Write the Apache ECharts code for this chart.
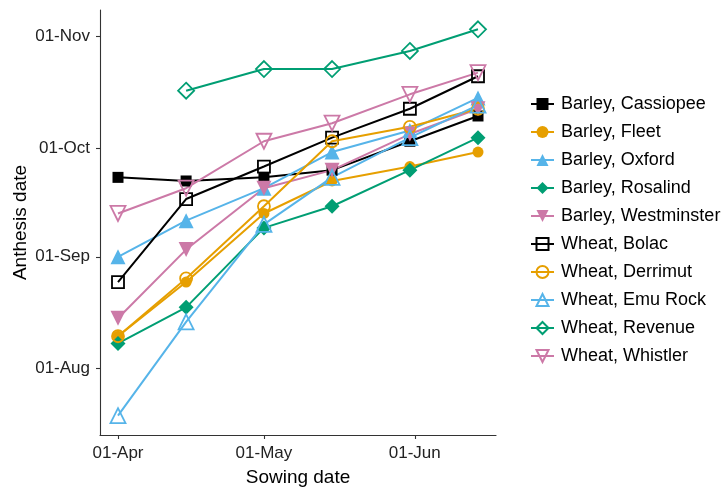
<!DOCTYPE html>
<html>
<head>
<meta charset="utf-8">
<script src="https://cdn.jsdelivr.net/npm/echarts@6/dist/echarts.min.js"></script>
<style>
  html, body { margin: 0; padding: 0; background: #fff; }
  #chart { width: 727px; height: 493px; }
</style>
</head>
<body>
<div id="chart"></div>
<script>
// Sowing dates (x) shared by every cultivar
const sowingDates = ['2019-04-01', '2019-04-15', '2019-05-01', '2019-05-15', '2019-05-31', '2019-06-14'];

// Anthesis dates per cultivar, one per sowing date (null = not recorded)
const barleyCassiopee   = ['2019-09-23', '2019-09-22', '2019-09-23', '2019-09-25', '2019-10-03', '2019-10-10'];
const barleyFleet       = ['2019-08-10', '2019-08-25', '2019-09-13', '2019-09-22', '2019-09-26', '2019-09-30'];
const barleyOxford      = ['2019-09-01', '2019-09-11', '2019-09-20', '2019-09-30', '2019-10-06', '2019-10-15'];
const barleyRosalind    = ['2019-08-08', '2019-08-18', '2019-09-09', '2019-09-15', '2019-09-25', '2019-10-04'];
const barleyWestminster = ['2019-08-15', '2019-09-03', '2019-09-20', '2019-09-25', '2019-10-05', '2019-10-12'];
const wheatBolac        = ['2019-08-25', '2019-09-17', '2019-09-26', '2019-10-04', '2019-10-12', '2019-10-21'];
const wheatDerrimut     = ['2019-08-10', '2019-08-26', '2019-09-15', '2019-10-03', '2019-10-07', '2019-10-12'];
const wheatEmuRock      = ['2019-07-19', '2019-08-14', '2019-09-10', '2019-09-23', '2019-10-04', '2019-10-13'];
const wheatRevenue      = [null,         '2019-10-17', '2019-10-23', '2019-10-23', '2019-10-28', '2019-11-03'];
const wheatWhistler     = ['2019-09-13', '2019-09-20', '2019-10-03', '2019-10-08', '2019-10-16', '2019-10-22'];

// Tick positions
const xTicks = ['2019-04-01', '2019-05-01', '2019-06-01'];
const yTicks = ['2019-08-01', '2019-09-01', '2019-10-01', '2019-11-01'];

const cultivars = [
  { name: 'Barley, Cassiopee',   values: barleyCassiopee,   color: '#000000', symbol: 'rect',     filled: true,  size: 11, rot: 0 },
  { name: 'Barley, Fleet',       values: barleyFleet,       color: '#E69F00', symbol: 'circle',   filled: true,  size: 11, rot: 0 },
  { name: 'Barley, Oxford',      values: barleyOxford,      color: '#56B4E9', symbol: 'triangle', filled: true,  size: 15, rot: 0 },
  { name: 'Barley, Rosalind',    values: barleyRosalind,    color: '#009E73', symbol: 'diamond',  filled: true,  size: 15, rot: 0 },
  { name: 'Barley, Westminster', values: barleyWestminster, color: '#CC79A7', symbol: 'triangle', filled: true,  size: 15, rot: 180 },
  { name: 'Wheat, Bolac',        values: wheatBolac,        color: '#000000', symbol: 'rect',     filled: false, size: 12, rot: 0 },
  { name: 'Wheat, Derrimut',     values: wheatDerrimut,     color: '#E69F00', symbol: 'circle',   filled: false, size: 12, rot: 0 },
  { name: 'Wheat, Emu Rock',     values: wheatEmuRock,      color: '#56B4E9', symbol: 'triangle', filled: false, size: 15, rot: 0 },
  { name: 'Wheat, Revenue',      values: wheatRevenue,      color: '#009E73', symbol: 'diamond',  filled: false, size: 16, rot: 0 },
  { name: 'Wheat, Whistler',     values: wheatWhistler,     color: '#CC79A7', symbol: 'triangle', filled: false, size: 15, rot: 180 }
];

const toTime = s => Date.parse(s);
const MONTHS = ['Jan','Feb','Mar','Apr','May','Jun','Jul','Aug','Sep','Oct','Nov','Dec'];
const fmtDate = v => {
  const d = new Date(v);
  return String(d.getUTCDate()).padStart(2, '0') + '-' + MONTHS[d.getUTCMonth()];
};

// Axis limits: data range padded by 5% on each side
function paddedRange(times) {
  const lo = Math.min(...times), hi = Math.max(...times);
  const pad = (hi - lo) * 0.05;
  return [lo - pad, hi + pad];
}
const xTimes = sowingDates.map(toTime);
const yTimes = [];
cultivars.forEach(c => c.values.forEach(v => { if (v) yTimes.push(toTime(v)); }));
const [xMin, xMax] = paddedRange(xTimes);
const [yMin, yMax] = paddedRange(yTimes);

const FONT = "'Liberation Sans', Arial, sans-serif";

const series = cultivars.map(c => ({
  name: c.name,
  type: 'line',
  data: c.values.map((v, i) => [xTimes[i], v ? toTime(v) : null]),
  connectNulls: false,
  symbol: c.symbol,
  symbolSize: c.size,
  symbolRotate: c.rot,
  showAllSymbol: true,
  lineStyle: { color: c.color, width: 2 },
  itemStyle: c.filled
    ? { color: c.color, borderWidth: 0 }
    : { color: 'rgba(255,255,255,0)', borderColor: c.color, borderWidth: 1.8 },
  emphasis: { disabled: true },
  animation: false
}));

const axisText = { color: '#222', fontSize: 17, fontFamily: FONT };
const axisLine = { show: true, lineStyle: { color: '#333', width: 1.1 } };

const chart = echarts.init(document.getElementById('chart'), null, { renderer: 'canvas' });
chart.setOption({
  backgroundColor: '#ffffff',
  animation: false,
  grid: { left: 100, right: 231, top: 10, bottom: 58, containLabel: false, outerBoundsMode: 'none' },
  xAxis: {
    type: 'value',
    min: xMin, max: xMax,
    name: 'Sowing date',
    nameLocation: 'middle',
    nameGap: 33,
    nameMoveOverlap: false,
    nameTextStyle: { color: '#000', fontSize: 19, fontFamily: FONT, verticalAlign: 'top' },
    axisLine: axisLine,
    axisTick: { show: true, length: 4, lineStyle: { color: '#333', width: 1.1 }, customValues: xTicks.map(toTime) },
    axisLabel: { ...axisText, margin: 10, customValues: xTicks.map(toTime), formatter: fmtDate },
    splitLine: { show: false }
  },
  yAxis: {
    type: 'value',
    min: yMin, max: yMax,
    name: 'Anthesis date',
    nameLocation: 'middle',
    nameGap: 70,
    nameRotate: 90,
    nameMoveOverlap: false,
    nameTextStyle: { color: '#000', fontSize: 19, fontFamily: FONT },
    axisLine: axisLine,
    axisTick: { show: true, length: 4, lineStyle: { color: '#333', width: 1.1 }, customValues: yTicks.map(toTime) },
    axisLabel: { ...axisText, margin: 10, customValues: yTicks.map(toTime), formatter: fmtDate },
    splitLine: { show: false }
  },
  legend: {
    orient: 'vertical',
    left: 525,
    top: 90,
    itemWidth: 23,
    itemHeight: 15,
    itemGap: 10,
    selectedMode: false,
    textStyle: { color: '#000', fontSize: 18, fontFamily: FONT, padding: [0, 0, 0, 2] },
    data: cultivars.map(c => c.name)
  },
  series: series
});
</script>
</body>
</html>
